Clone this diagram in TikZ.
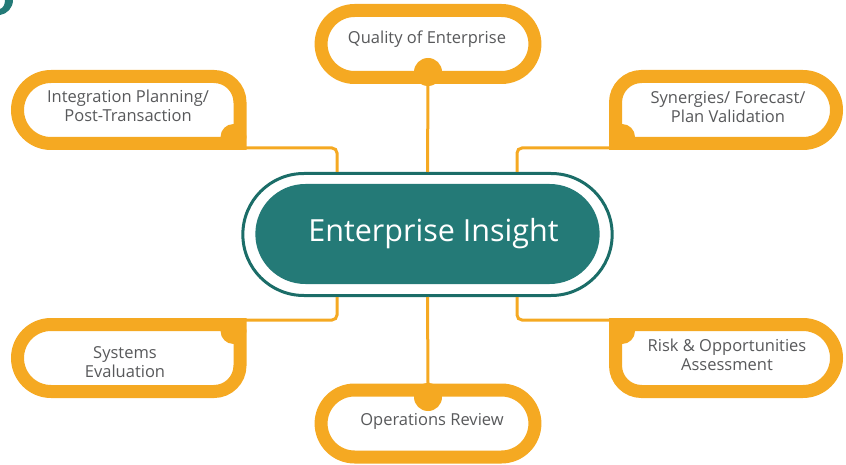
\documentclass[tikz,border=0pt]{standalone}
\usepackage{fontspec}
\setmainfont{Open Sans}
\usetikzlibrary{shapes.misc,positioning,calc}
\definecolor{gold}{RGB}{245,169,34}
\definecolor{teal}{RGB}{36,122,119}
\definecolor{tealdark}{RGB}{27,109,104}
\definecolor{txtgrey}{RGB}{88,89,91}
\begin{document}
\begin{tikzpicture}[x=1pt,y=-1pt,
	sat/.style={draw=gold, fill=white, line width=13pt, line join=miter},
	pill/.style={rounded rectangle, draw=gold, fill=white, line width=13pt, minimum width=220.5pt, minimum height=67pt},
	lbl/.style={text=txtgrey, font=\fontsize{16.5}{19.5}\selectfont, align=center},
	link/.style={draw=gold, line width=3pt, rounded corners=5pt},
	fillet/.style={fill=gold}]
\useasboundingbox (0,0) rectangle (846,465);
% mark in the corner
\fill[teal](13,0).. controls (13,8) and (7,14) .. (0,15)--(0,9).. controls (3,8) and (5,5) .. (5,0)--cycle;
% centre
\node[rounded rectangle, draw=tealdark, line width=3pt, minimum width=376pt, minimum height=122pt](ring) at (427.5,234.5){};
\node[rounded rectangle, fill=teal, minimum width=351pt, minimum height=100pt, text=white, font=\fontsize{30.5}{36}\selectfont](hub) at (427.5,234){\hspace{12pt}Enterprise Insight};
% top and bottom
\node[pill](qualbox) at (428,44){};
\fill[fillet](428,72)circle(14);
\node[lbl](qual) at (427,39){Quality of Enterprise};
\node[pill](operbox) at (428,423.5){};
\fill[fillet](428,397)circle(14);
\node[lbl](oper) at (432,421){Operations Review};
% left side
\draw[sat](240,143.5)--(51,143.5)arc(90:270:33.5)--(214,76.5)arc(270:360:26)--cycle;
\fill[fillet](233.5,137)circle(13);
\node[lbl](integ) at (128,106){Integration Planning/\\Post-Transaction};
\draw[sat](240,324.5)--(51,324.5)arc(270:90:33.5)--(214,391.5)arc(90:0:26)--cycle;
\fill[fillet](233.5,331)circle(13);
\node[lbl](syst) at (125,362){Systems\\Evaluation};
% right side
\draw[sat](615.5,143.5)--(803,143.5)arc(90:-90:33.5)--(641.5,76.5)arc(270:180:26)--cycle;
\fill[fillet](622,137)circle(13);
\node[lbl](syner) at (728,107){Synergies/ Forecast/\\Plan Validation};
\draw[sat](615.5,324.5)--(803,324.5)arc(-90:90:33.5)--(641.5,391.5)arc(90:180:26)--cycle;
\fill[fillet](622,331)circle(13);
\node[lbl](risk) at (727,355){Risk \& Opportunities\\Assessment};
% links
\coordinate(integport) at (246,148);
\coordinate(synerport) at (609,148);
\coordinate(systport) at (246,320);
\coordinate(riskport) at (609,320);
\draw[link](qualbox.south)--(ring.north);
\draw[link](ring.south)--(operbox.north);
\draw[link](integport)-|([xshift=-90.5pt]ring.north);
\draw[link](synerport)-|([xshift=89.5pt]ring.north);
\draw[link](systport)-|([xshift=-90.5pt]ring.south);
\draw[link](riskport)-|([xshift=89.5pt]ring.south);
\end{tikzpicture}
\end{document}
